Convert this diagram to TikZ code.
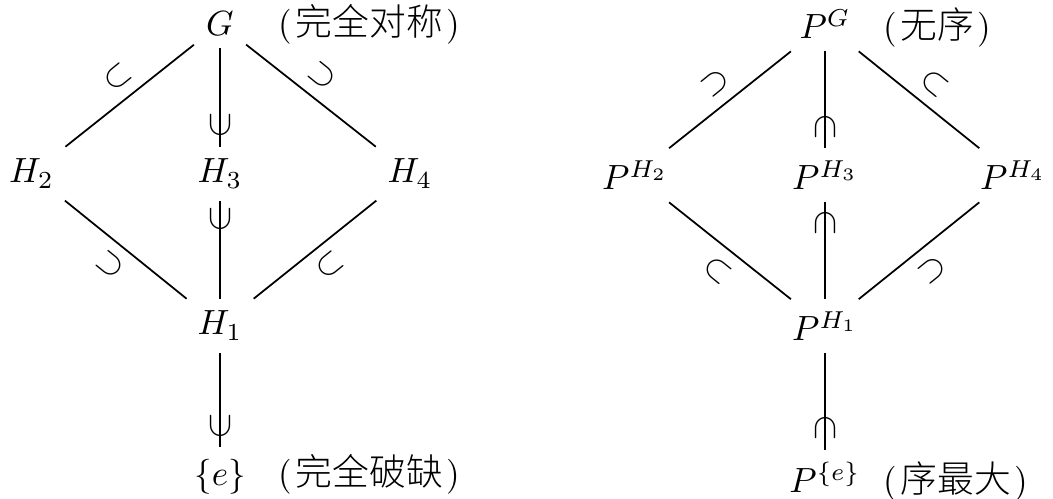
\documentclass[tikz,border=0pt]{standalone}
\usepackage{fontspec}
\newfontfamily\cjk{Noto Sans CJK SC}[UprightFont={* Light},Scale=1.05]
\begin{document}
\begin{tikzpicture}[x=0.285714pt,y=-0.285714pt,
  obj/.style={anchor=base,inner sep=0.3333em},
  edge/.style={line width=0.5pt},
  sym/.style={inner sep=0pt},
  note/.style={anchor=base west,inner sep=0pt}]
\useasboundingbox (0,0) rectangle (1053,499);
% left lattice
\node[obj] (G)  at (220,36)   {$G$};
\node[obj] (H2) at (31.5,183) {$H_2$};
\node[obj] (H3) at (220,183)  {$H_3$};
\node[obj] (H4) at (410,183)  {$H_4$};
\node[obj] (H1) at (220,335)  {$H_1$};
\node[obj] (E)  at (220,486)  {$\{e\}$};
\node[note] (nG) at (278,36)  {(\kern1pt{\cjk 完全对称}\kern1pt)};
\node[note] (nE) at (278,486) {(\kern1pt{\cjk 完全破缺}\kern1pt)};
\draw[edge] (G) -- (H2);
\draw[edge] (G) -- (H3);
\draw[edge] (G) -- (H4);
\draw[edge] (H2) -- (H1);
\draw[edge] (H3) -- (H1);
\draw[edge] (H4) -- (H1);
\draw[edge] (H1) -- (E);
\node[sym,rotate=39]  (s1) at (117.5,77.5) {$\subset$};
\node[sym,rotate=90]  (s2) at (220,125)    {$\subset$};
\node[sym,rotate=141] (s3) at (322.5,76)   {$\subset$};
\node[sym,rotate=141] (s4) at (110,265)    {$\subset$};
\node[sym,rotate=90]  (s5) at (220,219)    {$\subset$};
\node[sym,rotate=39]  (s6) at (330,265)    {$\subset$};
\node[sym,rotate=90]  (s7) at (220,426)    {$\subset$};
% right lattice
\node[obj] (PG)  at (825,39)  {$P^G$};
\node[obj] (PH2) at (635,190) {$P^{H_2}$};
\node[obj] (PH3) at (825,190) {$P^{H_3}$};
\node[obj] (PH4) at (1013,190) {$P^{H_4}$};
\node[obj] (PH1) at (825,341) {$P^{H_1}$};
\node[obj] (PE)  at (825,493) {$P^{\{e\}}$};
\node[note] (nPG) at (883,39)  {(\kern1pt{\cjk 无序}\kern1pt)};
\node[note] (nPE) at (883,493) {(\kern1pt{\cjk 序最大}\kern1pt)};
\draw[edge] (PG) -- (PH2);
\draw[edge] (PG) -- (PH3);
\draw[edge] (PG) -- (PH4);
\draw[edge] (PH2) -- (PH1);
\draw[edge] (PH3) -- (PH1);
\draw[edge] (PH4) -- (PH1);
\draw[edge] (PH1) -- (PE);
\node[sym,rotate=219] (t1) at (715,83)  {$\subset$};
\node[sym,rotate=-90] (t2) at (825,127) {$\subset$};
\node[sym,rotate=-39] (t3) at (935,83)  {$\subset$};
\node[sym,rotate=-39] (t4) at (718,270) {$\subset$};
\node[sym,rotate=-90] (t5) at (825,223) {$\subset$};
\node[sym,rotate=219] (t6) at (932,270) {$\subset$};
\node[sym,rotate=-90] (t7) at (825,428) {$\subset$};
\end{tikzpicture}
\end{document}
